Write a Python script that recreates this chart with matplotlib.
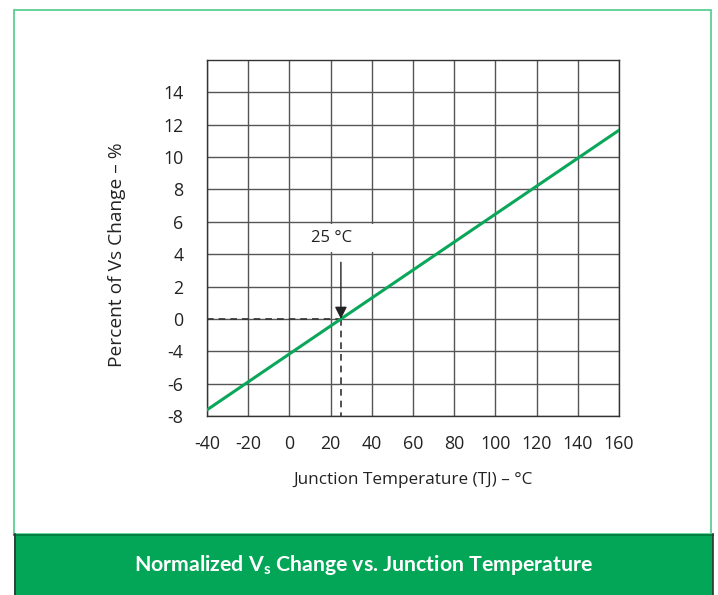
import matplotlib
matplotlib.use("Agg")
import matplotlib.pyplot as plt
from matplotlib.patches import Rectangle

plt.rcParams['font.family'] = ['Open Sans', 'DejaVu Sans']

# ---- data (y in the chart's own evenly spaced grid positions) ----
x_ticks = [-40, -20, 0, 20, 40, 60, 80, 100, 120, 140, 160]
x_tick_labels = ['-40', '-20', '0', '20', '40', '60', '80', '100', '120', '140', '160']
y_tick_pos = [-6, -4, -2, 0, 2, 4, 6, 8, 10, 12, 14]
y_tick_labels = ['-8', '-6', '-4', '0', '2', '4', '6', '8', '10', '12', '14']
temp = [-40, 160]
vs_change = [-5.62, 11.66]
ref_temp = 25
ref_value = 0

W, H = 718, 595
fig = plt.figure(figsize=(W / 100, H / 100), dpi=100)

def fx(px):
    return px / W

def fy(py):
    return 1 - py / H

# outer frame
fig.patches.append(Rectangle((fx(14), fy(534)), fx(711) - fx(14), fy(10) - fy(534),
                             transform=fig.transFigure, fill=False,
                             edgecolor='#5ccf93', linewidth=1.3, zorder=0))
# banner
fig.patches.append(Rectangle((fx(14), 0), fx(713) - fx(14), fy(534),
                             transform=fig.transFigure, facecolor='#03a657',
                             edgecolor='none', zorder=1))
fig.lines.append(plt.Line2D([fx(14), fx(713)], [fy(534.5), fy(534.5)],
                            transform=fig.transFigure, color='#02783f', lw=1.2, zorder=2))
fig.lines.append(plt.Line2D([fx(14.5), fx(14.5)], [0, fy(534)],
                            transform=fig.transFigure, color='#333333', lw=1.2, zorder=2))
fig.lines.append(plt.Line2D([fx(712.5), fx(712.5)], [0, fy(534)],
                            transform=fig.transFigure, color='#333333', lw=1.2, zorder=2))
fig.text(fx(364), fy(565), r'Normalized V$\mathregular{_s}$ Change vs. Junction Temperature',
         color='white', fontsize=15.3, fontweight='bold', ha='center', va='center', zorder=3,
         family=['Lato', 'DejaVu Sans'])

ax = fig.add_axes([fx(207), fy(416), fx(619) - fx(207), fy(60) - fy(416)])
ax.set_xlim(-40, 160)
ax.set_ylim(-6, 16)
ax.set_xticks(x_ticks)
ax.set_xticklabels(x_tick_labels)
ax.set_yticks(y_tick_pos)
ax.set_yticklabels(y_tick_labels)
ax.tick_params(length=0, labelsize=12.8, colors='#222222')
ax.tick_params(axis='y', pad=17)
ax.tick_params(axis='x', pad=14)
ax.grid(True, color='#555555', linewidth=1.0)
ax.set_axisbelow(True)
for s in ax.spines.values():
    s.set_color('#333333')
    s.set_linewidth(1.0)

# white box behind the annotation label
ax.add_patch(Rectangle((9, 4.15), 42, 1.7, facecolor='white', edgecolor='none', zorder=2))
ax.text(20.5, 5.0, '25 °C', fontsize=12, ha='center', va='center', color='#222222', zorder=3)

# reference dashed lines
ax.plot([-40, ref_temp], [ref_value, ref_value], ls=(0, (4, 3)), color='#333333', lw=1.2, zorder=3)
ax.plot([ref_temp, ref_temp], [ref_value, -6], ls=(0, (4, 3)), color='#333333', lw=1.2, zorder=3)

# main line
ax.plot(temp, vs_change, color='#0aa659', lw=2.2, zorder=4, clip_on=True)

# arrow
ax.annotate('', xy=(ref_temp, ref_value), xytext=(ref_temp, 3.5),
            arrowprops=dict(arrowstyle='-|>', color='#222222', lw=1.0,
                            mutation_scale=18, shrinkA=0, shrinkB=0), zorder=5)

fig.text(fx(413), fy(480), 'Junction Temperature (TJ) – °C', fontsize=12.3,
         ha='center', va='center', color='#222222')
fig.text(fx(117), fy(255), 'Percent of Vs Change – %', fontsize=13.8,
         ha='center', va='center', color='#222222', rotation=90)

fig.savefig('out.png', dpi=100)
